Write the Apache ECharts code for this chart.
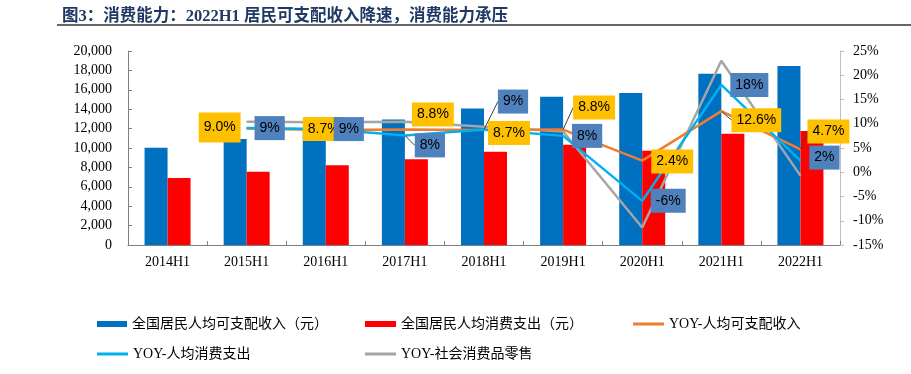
<!DOCTYPE html>
<html>
<head>
<meta charset="utf-8">
<script src="https://cdn.jsdelivr.net/npm/echarts@6/dist/echarts.min.js"></script>
<style>
html,body{margin:0;padding:0;background:#fff;}
#chart{width:911px;height:374px;}
</style>
</head>
<body>
<div id="chart"></div>
<script>
// ---- data ----
const categories = ['2014H1','2015H1','2016H1','2017H1','2018H1','2019H1','2020H1','2021H1','2022H1'];
const income = [10026, 10931, 11843, 12932, 14063, 15294, 15666, 17642, 18463];
const consumption = [6906, 7543, 8233, 8834, 9609, 10330, 9718, 11471, 11756];
const yoyIncome = [null, 9.0, 8.7, 8.8, 8.7, 8.8, 2.4, 12.6, 4.7];
const yoyConsumption = [null, 9.1, 8.9, 7.6, 8.8, 7.5, -5.9, 18.0, 2.4];
const yoyRetail = [null, 10.4, 10.3, 10.4, 9.4, 8.4, -11.4, 23.0, -0.7];
const seriesNames = ['全国居民人均可支配收入（元）','全国居民人均消费支出（元）','YOY-人均可支配收入','YOY-人均消费支出','YOY-社会消费品零售'];
const titleText = '图3：消费能力：2022H1 居民可支配收入降速，消费能力承压';

// ---- label placement (style only) ----
const incomeLabelShift = [null,[-27,-1],[-2,-1],[28,-15],[25,3],[31,-22],[30,1],[35,9],[28,-18]];
const consLabelShift = [null,[23,0],[23,0],[25,10],[29,-28],[24,0],[26,0],[28,0],[24,-3]];
const incomeLeader = [false,false,false,false,false,true,false,true,true];
const consLeader = [false,false,false,true,true,false,false,false,false];
const incomeTallBox = [false,true,false,false,false,false,false,false,false];

const chart = echarts.init(document.getElementById('chart'), null, {renderer:'canvas'});

function decorate(values, leaders, tall){
  return values.map((v,i)=>{
    if (v == null) return v;
    const item = {value:v};
    if (leaders[i]) item.labelLine = {show:true, lineStyle:{color:'#404040', width:1}};
    if (tall && tall[i]) item.label = {padding:[7,5]};
    return item;
  });
}
const baseLabel = {
  show:true, position:'inside', color:'#000', fontSize:14,
  fontFamily:'Liberation Sans, Arial, sans-serif',
  padding:[4,5], lineHeight:16
};
const serif = 'Liberation Serif, "Times New Roman", serif';
const legendText = {fontSize:14, color:'#000', fontFamily:'"Liberation Serif", "Noto Sans CJK SC", serif'};

function legendAt(name, left, top, iw, ih){
  return {data:[name], left:left, top:top, itemWidth:iw, itemHeight:ih, icon:'rect',
          textStyle:legendText, selectedMode:false, padding:0};
}

const option = {
  animation:false,
  backgroundColor:'#fff',
  title:{
    text:titleText, left:57, top:3,
    textStyle:{fontSize:16.5, fontWeight:'bold', color:'#1F3864',
      fontFamily:'"Liberation Serif", "Noto Sans CJK SC", serif'}
  },
  graphic:[{type:'line', shape:{x1:57,y1:25,x2:911,y2:25}, style:{stroke:'#333', lineWidth:1.5}}],
  legend:[
    legendAt(seriesNames[0], 97, 317, 30, 6),
    legendAt(seriesNames[1], 365, 317, 31, 6),
    legendAt(seriesNames[2], 633, 317, 31, 3),
    legendAt(seriesNames[3], 97, 347, 31, 3),
    legendAt(seriesNames[4], 365, 347, 31, 3)
  ],
  grid:{left:128, right:71, top:51, bottom:129},
  xAxis:{
    type:'category', data:categories,
    axisLine:{lineStyle:{color:'#7f7f7f', width:1}},
    axisTick:{show:true, inside:true, length:4, lineStyle:{color:'#7f7f7f'}},
    axisLabel:{color:'#000', fontSize:14, fontFamily:serif, margin:10}
  },
  yAxis:[
    {type:'value', min:0, max:20000, interval:2000,
     axisLine:{show:true, lineStyle:{color:'#7f7f7f'}},
     axisTick:{show:true, inside:true, length:4, lineStyle:{color:'#7f7f7f'}},
     splitLine:{show:false},
     axisLabel:{color:'#000', fontSize:14, fontFamily:serif, margin:16,
       formatter:v=>v.toLocaleString('en-US')}},
    {type:'value', min:-15, max:25, interval:5, position:'right',
     axisLine:{show:true, lineStyle:{color:'#bfbfbf'}},
     axisTick:{show:true, inside:false, length:4, lineStyle:{color:'#bfbfbf'}},
     splitLine:{show:false},
     axisLabel:{color:'#000', fontSize:14, fontFamily:serif, margin:13, formatter:'{value}%'}}
  ],
  series:[
    {name:seriesNames[0], type:'bar', data:income, barWidth:23, barGap:'0%',
     itemStyle:{color:'#0070C0'}},
    {name:seriesNames[1], type:'bar', data:consumption, barWidth:23, barGap:'0%',
     itemStyle:{color:'#FF0000'}},
    {name:seriesNames[4], type:'line', yAxisIndex:1, data:yoyRetail,
     symbol:'circle', symbolSize:1, showSymbol:true,
     lineStyle:{color:'#A5A5A5', width:2.5}, itemStyle:{color:'#A5A5A5'}},
    {name:seriesNames[2], type:'line', yAxisIndex:1, data:decorate(yoyIncome, incomeLeader, incomeTallBox),
     symbol:'circle', symbolSize:1, showSymbol:true,
     lineStyle:{color:'#ED7D31', width:2.5}, itemStyle:{color:'#ED7D31'},
     label:Object.assign({}, baseLabel, {backgroundColor:'#FFC000',
       formatter:p=>Number(p.value).toFixed(1)+'%'}),
     labelLine:{show:false},
     labelLayout:p=>{const s=incomeLabelShift[p.dataIndex]||[0,0]; return {dx:s[0], dy:s[1]};}},
    {name:seriesNames[3], type:'line', yAxisIndex:1, data:decorate(yoyConsumption, consLeader, null),
     symbol:'circle', symbolSize:1, showSymbol:true,
     lineStyle:{color:'#00B0F0', width:2.5}, itemStyle:{color:'#00B0F0'},
     label:Object.assign({}, baseLabel, {backgroundColor:'#4F81BD',
       formatter:p=>Math.round(Number(p.value))+'%'}),
     labelLine:{show:false},
     labelLayout:p=>{const s=consLabelShift[p.dataIndex]||[0,0]; return {dx:s[0], dy:s[1]};}}
  ]
};
chart.setOption(option);
</script>
</body>
</html>
